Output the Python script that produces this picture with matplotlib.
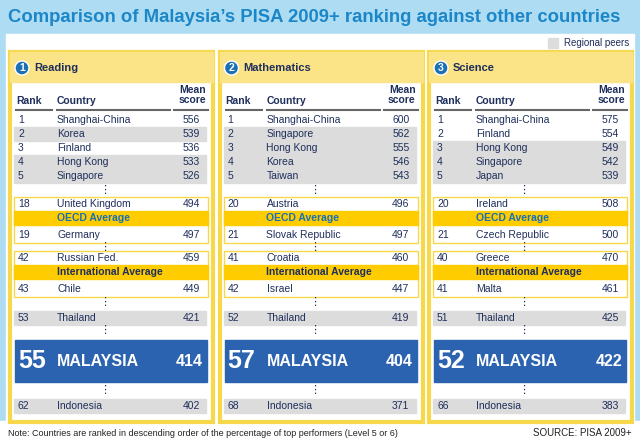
import matplotlib.pyplot as plt
from matplotlib.patches import Rectangle, Circle

plt.rcParams['font.family'] = ['Liberation Sans', 'DejaVu Sans']

subjects = ["Reading", "Mathematics", "Science"]
top_ranks = [[1, 2, 3, 4, 5], [1, 2, 3, 4, 5], [1, 2, 3, 4, 5]]
top_countries = [["Shanghai-China", "Korea", "Finland", "Hong Kong", "Singapore"],
                 ["Shanghai-China", "Singapore", "Hong Kong", "Korea", "Taiwan"],
                 ["Shanghai-China", "Finland", "Hong Kong", "Singapore", "Japan"]]
top_scores = [[556, 539, 536, 533, 526], [600, 562, 555, 546, 543], [575, 554, 549, 542, 539]]
oecd_rows = [[(18, "United Kingdom", 494), (19, "Germany", 497)],
             [(20, "Austria", 496), (21, "Slovak Republic", 497)],
             [(20, "Ireland", 508), (21, "Czech Republic", 500)]]
intl_rows = [[(42, "Russian Fed.", 459), (43, "Chile", 449)],
             [(41, "Croatia", 460), (42, "Israel", 447)],
             [(40, "Greece", 470), (41, "Malta", 461)]]
thailand = [(53, 421), (52, 419), (51, 425)]
malaysia = [(55, 414), (57, 404), (52, 422)]
indonesia = [(62, 402), (68, 371), (66, 383)]
peers = {"Korea", "Hong Kong", "Singapore", "Taiwan", "Japan", "Thailand", "Indonesia"}

navy = "#1f2f5c"
yellow = "#f7d84a"
gold = "#ffcc00"
grey = "#dcdcdc"
blue = "#2b63b0"

fig = plt.figure(figsize=(6.4, 4.45), dpi=100)
ax = fig.add_axes([0, 0, 1, 1])
ax.set_xlim(0, 640)
ax.set_ylim(445, 0)
ax.axis("off")
fig.patch.set_facecolor("#aedcf2")
ax.add_patch(Rectangle((6, 34), 628, 387, color="white"))
ax.add_patch(Rectangle((0, 421), 640, 24, color="white"))
ax.text(8, 18, "Comparison of Malaysia\u2019s PISA 2009+ ranking against other countries",
        fontsize=13.3, fontweight="bold", color="#1b86c8", va="center")
ax.add_patch(Rectangle((548, 38), 10, 10, color=grey))
ax.text(564, 43, "Regional peers", fontsize=7, color=navy, va="center")
ax.text(8, 433, "Note: Countries are ranked in descending order of the percentage of top performers (Level 5 or 6)",
        fontsize=6.5, color="#222222", va="center")
ax.text(632, 433, "SOURCE: PISA 2009+", fontsize=7, color="#222222", va="center", ha="right")


def row(x0, y, r, c, s, shade=None, fs=7.5):
    if shade:
        ax.add_patch(Rectangle((x0 + 4, y - 7), 192, 14, color=shade))
    ax.text(x0 + 8, y, str(r), fontsize=fs, color=navy, va="center")
    ax.text(x0 + 47, y, c, fontsize=fs, color=navy, va="center")
    ax.text(x0 + 190, y, str(s), fontsize=fs, color=navy, va="center", ha="right")


def dots(x0, y):
    ax.text(x0 + 95, y, "\u22ee", fontsize=8, color=navy, ha="center", va="center")


for i, subj in enumerate(subjects):
    x0 = 10 + i * 209.5
    ax.add_patch(Rectangle((x0, 52), 203, 370, facecolor="white", edgecolor=yellow, lw=3))
    ax.add_patch(Rectangle((x0, 52), 203, 30, color="#fbe488"))
    ax.add_patch(Circle((x0 + 12, 68), 7, color="#1a6fb5", ec="white", lw=1))
    ax.text(x0 + 12, 68, str(i + 1), fontsize=7.5, color="white", fontweight="bold",
            ha="center", va="center")
    ax.text(x0 + 24, 68, subj, fontsize=8, fontweight="bold", color=navy, va="center")
    ax.text(x0 + 6, 101, "Rank", fontsize=7.5, fontweight="bold", color=navy, va="center")
    ax.text(x0 + 47, 101, "Country", fontsize=7.5, fontweight="bold", color=navy, va="center")
    ax.text(x0 + 196, 95, "Mean\nscore", fontsize=7.5, fontweight="bold", color=navy,
            va="center", ha="right", linespacing=1.1)
    for a, b in [(6, 42), (47, 160), (164, 198)]:
        ax.plot([x0 + a, x0 + b], [110, 110], color="#666666", lw=1.5)
    for k in range(5):
        c = top_countries[i][k]
        row(x0, 120 + k * 14, top_ranks[i][k], c, top_scores[i][k],
            grey if c in peers and k > 0 else None)
    dots(x0, 190)
    for rows, label, yb in [(oecd_rows[i], "OECD Average", 197), (intl_rows[i], "International Average", 251)]:
        ax.add_patch(Rectangle((x0 + 4, yb), 194, 46, facecolor="white", edgecolor=yellow, lw=1))
        ax.add_patch(Rectangle((x0 + 4, yb + 14), 194, 14, color=gold))
        ax.text(x0 + 47, yb + 21, label, fontsize=7.5, fontweight="bold",
                color="#1a6fb5" if label.startswith("OECD") else navy, va="center")
        row(x0, yb + 7, *rows[0])
        row(x0, yb + 38, *rows[1])
    dots(x0, 247)
    dots(x0, 302)
    row(x0, 318, thailand[i][0], "Thailand", thailand[i][1], grey)
    dots(x0, 330)
    ax.add_patch(Rectangle((x0 + 5, 340), 192, 42, color=blue))
    ax.text(x0 + 8, 361, str(malaysia[i][0]), fontsize=18, fontweight="bold", color="white", va="center")
    ax.text(x0 + 47, 361, "MALAYSIA", fontsize=11.5, fontweight="bold", color="white", va="center")
    ax.text(x0 + 193, 361, str(malaysia[i][1]), fontsize=11.5, fontweight="bold", color="white",
            va="center", ha="right")
    dots(x0, 390)
    row(x0, 406, indonesia[i][0], "Indonesia", indonesia[i][1], grey)

fig.savefig("out.png", dpi=100)
